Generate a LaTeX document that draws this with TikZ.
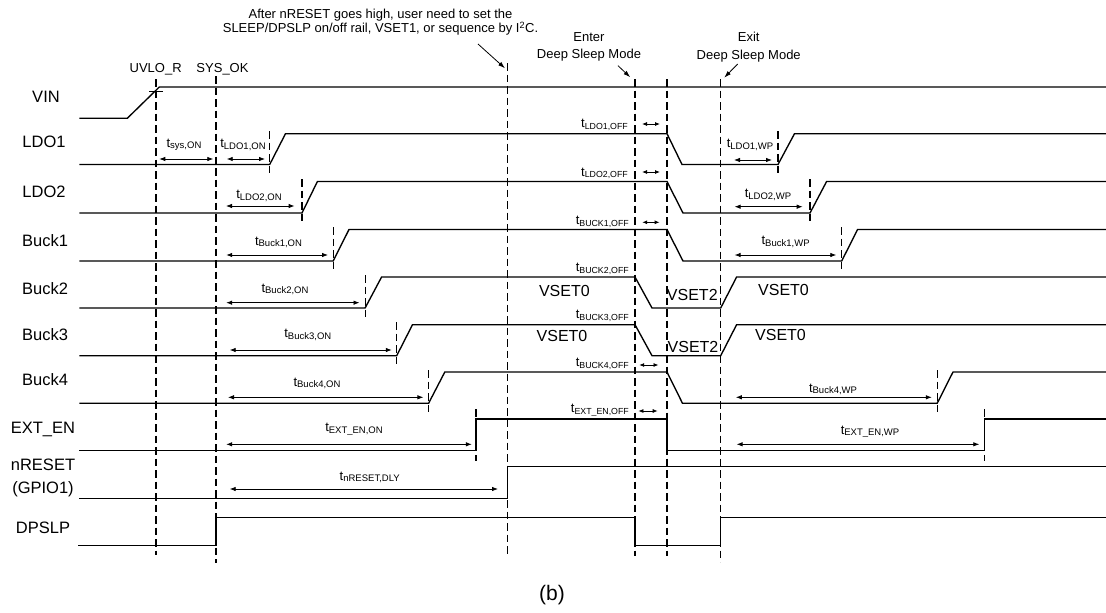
\documentclass[tikz,border=0pt]{standalone}
\usepackage{fontspec}
\setmainfont{Liberation Sans}
\usepackage{graphicx}
\usetikzlibrary{arrows.meta}
\newcommand\tq[2][9.5]{t\raisebox{-1.5pt}{\fontsize{#1}{10}\selectfont #2}}
\tikzset{
  sig/.style={line width=1.35pt, line join=miter},
  vline/.style={line width=1.2pt, dash pattern=on 7.5pt off 4pt},
  dim/.style={line width=0.8pt, {Latex[length=6pt,width=4.5pt]}-{Latex[length=6pt,width=4.5pt]}},
  dims/.style={line width=0.8pt, {Latex[length=5pt,width=4pt]}-{Latex[length=5pt,width=4pt]}},
  pointer/.style={line width=0.8pt, -{Latex[length=7pt,width=4.5pt]}},
  rowlab/.style={inner sep=0pt, font=\fontsize{16.5}{22.6}\selectfont, align=center},
  tlab/.style={inner sep=0pt, font=\fontsize{13}{14}\selectfont},
  offlab/.style={inner sep=0pt, anchor=east, font=\fontsize{13}{14}\selectfont},
  vset/.style={inner sep=0pt, font=\fontsize{16}{18}\selectfont},
  note/.style={inner sep=0pt, align=center, font=\fontsize{13}{13.3}\selectfont},
  note2/.style={inner sep=0pt, align=center, font=\fontsize{13}{17.4}\selectfont},
}
\begin{document}
\begin{tikzpicture}[x=1pt,y=-1pt]
\useasboundingbox (0,0) rectangle (1106,613);
\fill[white] (0,0) rectangle (1106,613);

% reference lines
\draw[vline] (156,79) -- (156,555);
\draw[vline] (216,76) -- (216,563);
\draw[vline] (507.3,63) -- (507.3,554);
\draw[vline] (635,79) -- (635,556);
\draw[vline] (667,79) -- (667,556);
\draw[vline] (720.7,79) -- (720.7,562);

% edge markers
\foreach \x/\a/\b in {269.7/131/174, 778/131/174, 302/179/222, 810/179/222,
  333.2/227/270, 841.7/227/270, 365.1/275/317, 396.7/322/365,
  428.6/370/413, 937.2/370/413, 476/409/461, 984.4/409/461}
  \draw[vline] (\x,\a) -- (\x,\b);

% VIN
\draw[sig] (79.3,118.3) -- (127.3,118.3) -- (159.3,87) -- (1106,87);
\draw[line width=1pt] (149,91.3) -- (162.7,91.3);
% LDO1
\draw[sig] (79.3,164.5) -- (269.7,164.5) -- (285.5,133.7) -- (667,133.7) -- (682,164.5) -- (778,164.5) -- (794.5,133.7) -- (1106,133.7);
% LDO2
\draw[sig] (79.3,213) -- (302,213) -- (317.4,181.5) -- (667,181.5) -- (683,213) -- (810,213) -- (826.6,181.5) -- (1106,181.5);
% Buck1
\draw[sig] (79.3,261) -- (333.2,261) -- (349,229.5) -- (667,229.5) -- (683,261) -- (841.7,261) -- (857.6,229.5) -- (1106,229.5);
% Buck2
\draw[sig] (79.3,308) -- (365.1,308) -- (381.6,277) -- (635,277) -- (652,308) -- (720.7,308) -- (736.6,277) -- (1106,277);
% Buck3
\draw[sig] (79.3,355.7) -- (396.7,355.7) -- (412.5,324.7) -- (635,324.7) -- (652,355.7) -- (720.7,355.7) -- (736.6,324.7) -- (1106,324.7);
% Buck4
\draw[sig] (79.3,403.3) -- (428.6,403.3) -- (444.8,372) -- (667,372) -- (682.5,403.3) -- (937.2,403.3) -- (953,372) -- (1106,372);
% EXT_EN
\draw[sig] (79.3,450.7) -- (476,450.7) -- (476,419) -- (667,419) -- (667,450.7) -- (984.4,450.7) -- (984.4,419) -- (1106,419);
% nRESET
\draw[sig] (79.3,498.3) -- (507.3,498.3) -- (507.3,466.7) -- (1106,466.7);
% DPSLP
\draw[sig] (78,545.5) -- (216,545.5) -- (216,517.7) -- (635,517.7) -- (635,545.5) -- (720.7,545.5) -- (720.7,517.7) -- (1106,517.7);

% row labels
\node[rowlab] (lVIN) at (46,96.7) {VIN};
\node[rowlab] (lLDO1) at (44,141.7) {LDO1};
\node[rowlab] (lLDO2) at (44,192) {LDO2};
\node[rowlab] (lB1) at (45,240.7) {Buck1};
\node[rowlab] (lB2) at (45,288.3) {Buck2};
\node[rowlab] (lB3) at (45,335) {Buck3};
\node[rowlab] (lB4) at (45,380) {Buck4};
\node[rowlab] (lEXT) at (43,429.3) {EXT\_EN};
\node[rowlab] (lNR) at (43,478) {nRESET\\(GPIO1)};
\node[rowlab] (lDP) at (43,528.3) {DPSLP};

% timing arrows
\draw[dim] (159.3,159) -- (213.3,159);
\draw[dim] (226.7,159) -- (265,159);
\draw[dims] (642,124) -- (660,124);
\draw[dim] (734,160) -- (772,160);
\draw[dim] (226,206) -- (294.6,206);
\draw[dims] (642,172) -- (660,172);
\draw[dim] (734.6,206.7) -- (802.7,206.7);
\draw[dim] (226.2,255) -- (328,255);
\draw[dims] (642.2,222.3) -- (659.6,222.3);
\draw[dim] (734.6,255) -- (836.3,255);
\draw[dim] (226.2,302.7) -- (359.5,302.7);
\draw[dim] (229.7,350) -- (391.8,350);
\draw[dim] (228,397.3) -- (423.4,397.3);
\draw[dims] (639.2,365) -- (658.5,365);
\draw[dim] (735.8,397.3) -- (931.8,397.3);
\draw[dim] (226.2,444.3) -- (471.8,444.3);
\draw[dims] (638.4,411) -- (657.7,411);
\draw[dim] (736.6,444.3) -- (979.3,444.3);
\draw[dim] (229.7,489) -- (498,489);

% timing labels
\node[tlab] (tsys) at (184,145) {\tq{sys,ON}};
\node[tlab] (tl1on) at (243,145) {\tq{LDO1,ON}};
\node[offlab] (tl1off) at (628,125) {\tq[8.8]{LDO1,OFF}};
\node[tlab] (tl1wp) at (750,145) {\tq{LDO1,WP}};
\node[tlab] (tl2on) at (259,196) {\tq{LDO2,ON}};
\node[offlab] (tl2off) at (628,173.3) {\tq[8.8]{LDO2,OFF}};
\node[tlab] (tl2wp) at (768,195) {\tq{LDO2,WP}};
\node[tlab] (tb1on) at (278.5,242.3) {\tq{Buck1,ON}};
\node[offlab] (tb1off) at (629,221.7) {\tq[8.8]{BUCK1,OFF}};
\node[tlab] (tb1wp) at (785.6,241.7) {\tq{Buck1,WP}};
\node[tlab] (tb2on) at (285,289.3) {\tq{Buck2,ON}};
\node[offlab] (tb2off) at (629,269) {\tq[8.8]{BUCK2,OFF}};
\node[tlab] (tb3on) at (307.8,335) {\tq{Buck3,ON}};
\node[offlab] (tb3off) at (629,316) {\tq[8.8]{BUCK3,OFF}};
\node[tlab] (tb4on) at (317,383.3) {\tq{Buck4,ON}};
\node[offlab] (tb4off) at (629,364) {\tq[8.8]{BUCK4,OFF}};
\node[tlab] (tb4wp) at (833,389.3) {\tq{Buck4,WP}};
\node[tlab] (teon) at (354,429.3) {\tq{EXT\_EN,ON}};
\node[offlab] (teoff) at (629,410) {\tq[8.8]{EXT\_EN,OFF}};
\node[tlab] (tewp) at (870,431.7) {\tq{EXT\_EN,WP}};
\node[tlab] (tnr) at (369.7,477.3) {\tq{nRESET,DLY}};

% VSET labels
\node[vset] (v20) at (564.4,290.7) {VSET0};
\node[vset] (v22) at (692.3,295.3) {VSET2};
\node[vset] (v20b) at (783.5,290) {VSET0};
\node[vset] (v30) at (562,335.7) {VSET0};
\node[vset] (v32) at (693,346.7) {VSET2};
\node[vset] (v30b) at (780.5,335) {VSET0};

% top annotations
\node[note] (ann) at (380.5,22.3) {After nRESET goes high, user need to set the\\SLEEP/DPSLP on/off rail, VSET1, or sequence by I\textsuperscript{2}C.};
\node[note] (uvlo) at (155.7,69) {UVLO\_R};
\node[note] (sysok) at (222.5,69) {SYS\_OK};
\node[note2] (enter) at (589,47) {Enter\\Deep Sleep Mode};
\node[note2] (exit) at (748.7,47) {Exit\\Deep Sleep Mode};
\coordinate (annA) at (478,44);
\coordinate (annB) at (505,68.3);
\coordinate (entA) at (618,65.7);
\coordinate (entB) at (630.3,77.3);
\coordinate (exA) at (737.7,64);
\coordinate (exB) at (724.2,77.7);
\draw[pointer] (annA) -- (annB);
\draw[pointer] (entA) -- (entB);
\draw[pointer] (exA) -- (exB);

\node[inner sep=0pt, font=\fontsize{21}{23}\selectfont] (cap) at (552,595) {(b)};
\end{tikzpicture}
\end{document}
